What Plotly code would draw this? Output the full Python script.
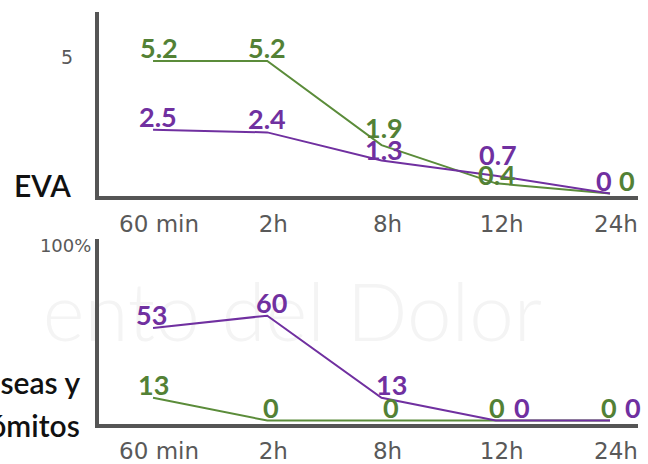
import plotly.graph_objects as go

# Time points after surgery
time_labels = ["60 min", "2h", "8h", "12h", "24h"]
x_pos = [0, 1, 2, 3, 4]

# Pain score (EVA) per group
eva_green = [5.2, 5.2, 1.9, 0.4, 0]
eva_purple = [2.5, 2.4, 1.3, 0.7, 0]

# Nausea and vomiting (%) per group
nv_green = [13, 0, 0, 0, 0]
nv_purple = [53, 60, 13, 0, 0]

GREEN_LINE = "#5b8c3a"
GREEN_TEXT = "#538135"
PURPLE = "#7030a0"
AXIS = "#555555"
TICK_TXT = "#595959"

W, H = 648, 464

fig = go.Figure()

# faint background lettering behind the lower panel
fig.add_trace(go.Scatter(
    x=[1.22], y=[57], mode="text", text=["ento del Dolor"],
    textfont=dict(family="Lato", size=80, color="#f4f4f4", weight=300),
    xaxis="x2", yaxis="y2", hoverinfo="skip", showlegend=False, cliponaxis=False,
))

# upper panel: EVA
fig.add_trace(go.Scatter(x=x_pos, y=eva_green, mode="lines",
                         line=dict(color=GREEN_LINE, width=2),
                         xaxis="x", yaxis="y", showlegend=False))
fig.add_trace(go.Scatter(x=x_pos, y=eva_purple, mode="lines",
                         line=dict(color=PURPLE, width=2),
                         xaxis="x", yaxis="y", showlegend=False))

# lower panel: nausea / vomiting
fig.add_trace(go.Scatter(x=x_pos, y=nv_green, mode="lines",
                         line=dict(color=GREEN_LINE, width=2),
                         xaxis="x2", yaxis="y2", showlegend=False))
fig.add_trace(go.Scatter(x=x_pos, y=nv_purple, mode="lines",
                         line=dict(color=PURPLE, width=2),
                         xaxis="x2", yaxis="y2", showlegend=False))

label_font = dict(family="Lato", size=27, weight="bold")


def fmt(v):
    return f"{v:g}"


annotations = []


def add_labels(values, color, xref, yref, xshifts, yshifts):
    for xi, v, dx, dy in zip(x_pos, values, xshifts, yshifts):
        annotations.append(dict(
            x=xi, y=v, xref=xref, yref=yref, text=fmt(v), showarrow=False,
            xanchor="center", yanchor="bottom", xshift=dx, yshift=dy,
            font=dict(color=color, **label_font),
        ))


# value labels: offsets in pixels keep neighbouring labels apart
add_labels(eva_green, GREEN_TEXT, "x", "y", [6, 0, 2, 1, 17], [-5, -5, -1, -10, -5])
add_labels(eva_purple, PURPLE, "x", "y", [5, 0, 2, 2, -6], [-5, -5, -8, 3, -5])
add_labels(nv_green, GREEN_TEXT, "x2", "y2", [0, 4, 9, 1, -1], [-5, -5, -5, -5, -5])
add_labels(nv_purple, PURPLE, "x2", "y2", [-2, 4, 10, 26, 23], [-5, -5, -5, -5, -5])

title_font = dict(family="Lato", size=30, color="#111111", weight=600)

# panel titles at the left
annotations.append(dict(
    x=42 / W, y=1 - 183 / H, xref="paper", yref="paper", text="EVA",
    showarrow=False, xanchor="center", yanchor="middle", font=title_font,
))
for line_text, y_px in [("Náuseas y", 383), ("vómitos", 427)]:
    annotations.append(dict(
        x=82 / W, y=1 - y_px / H, xref="paper", yref="paper", text=line_text,
        showarrow=False, xanchor="right", yanchor="middle", font=title_font,
    ))

x_dom = [99 / W, 638 / W]
x_rng = [-0.473, 4.245]

common_x = dict(
    domain=x_dom, range=x_rng, tickvals=x_pos, ticktext=time_labels,
    showline=True, linecolor=AXIS, linewidth=4, showgrid=False, zeroline=False,
    ticks="outside", ticklen=4, tickcolor="rgba(0,0,0,0)",
    tickfont=dict(family="DejaVu Sans", size=23, color=TICK_TXT),
    ticklabelshift=6, fixedrange=True,
)

fig.update_layout(
    width=W, height=H,
    margin=dict(l=0, r=0, t=0, b=0),
    paper_bgcolor="white", plot_bgcolor="white",
    showlegend=False,
    xaxis=dict(anchor="y", **common_x),
    yaxis=dict(
        domain=[1 - 195 / H, 1 - 8 / H], range=[-0.116, 7.13],
        tickvals=[5], ticktext=["5"],
        showline=True, linecolor=AXIS, linewidth=4, showgrid=False, zeroline=False,
        ticks="outside", ticklen=18, tickcolor="rgba(0,0,0,0)",
        tickfont=dict(family="DejaVu Sans", size=19, color=TICK_TXT),
        ticklabelshift=-9,
        anchor="x",
    ),
    xaxis2=dict(anchor="y2", **common_x),
    yaxis2=dict(
        domain=[1 - 425 / H, 1 - 238 / H], range=[-1.69, 103.9],
        tickvals=[100], ticktext=["100%"],
        showline=True, linecolor=AXIS, linewidth=4, showgrid=False, zeroline=False,
        ticks="outside", ticklen=0, tickcolor="rgba(0,0,0,0)",
        tickfont=dict(family="DejaVu Sans", size=18, color=TICK_TXT),
        anchor="x2",
    ),
    annotations=annotations,
)

fig.write_html("out.html")
